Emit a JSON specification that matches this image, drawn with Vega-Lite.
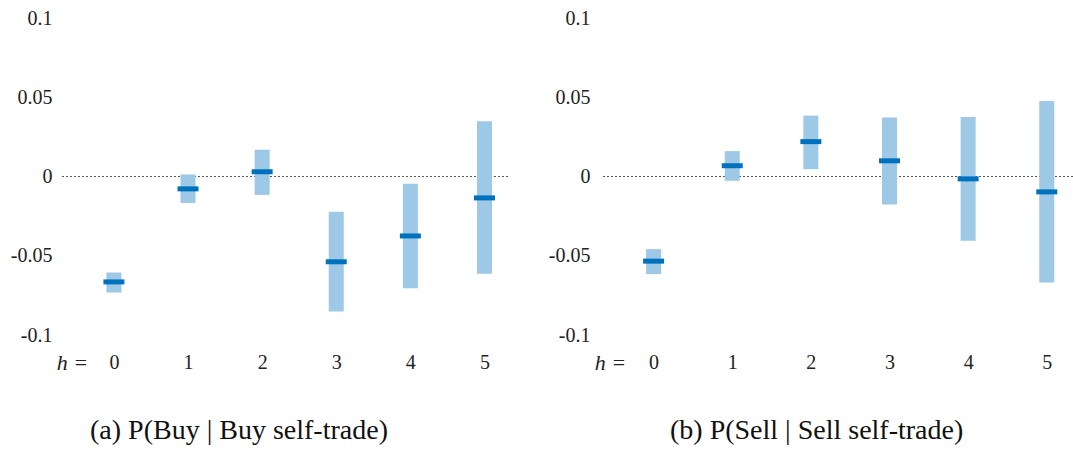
{
  "$schema": "https://vega.github.io/schema/vega-lite/v6.json",
  "background": "white",
  "padding": {"left": 10, "top": 8, "right": 0, "bottom": 0},
  "spacing": 39,
  "datasets": {
    "buy": [
      {"h": 0, "lo": -0.0732, "hi": -0.0606, "est": -0.0665},
      {"h": 1, "lo": -0.0167, "hi": 0.0013, "est": -0.0078},
      {"h": 2, "lo": -0.0116, "hi": 0.0169, "est": 0.003},
      {"h": 3, "lo": -0.0852, "hi": -0.0222, "est": -0.0538},
      {"h": 4, "lo": -0.0705, "hi": -0.0046, "est": -0.0375},
      {"h": 5, "lo": -0.0614, "hi": 0.0348, "est": -0.0135}
    ],
    "sell": [
      {"h": 0, "lo": -0.0616, "hi": -0.0458, "est": -0.0534},
      {"h": 1, "lo": -0.0027, "hi": 0.016, "est": 0.0068},
      {"h": 2, "lo": 0.0046, "hi": 0.0384, "est": 0.022},
      {"h": 3, "lo": -0.0177, "hi": 0.0373, "est": 0.0099},
      {"h": 4, "lo": -0.0405, "hi": 0.0375, "est": -0.0015},
      {"h": 5, "lo": -0.0669, "hi": 0.0477, "est": -0.0097}
    ],
    "zero": [{"v": 0}]
  },
  "config": {
    "font": "Liberation Serif",
    "view": {"stroke": null},
    "axis": {
      "grid": false, "domain": false, "ticks": false,
      "labelFont": "Liberation Serif", "labelFontSize": 20, "labelColor": "#222",
      "titleFont": "Liberation Serif", "titleFontSize": 22, "titleColor": "#222", "titleFontWeight": "normal"
    },
    "title": {"font": "Liberation Serif", "fontSize": 28, "fontWeight": "normal", "color": "#111"}
  },
  "hconcat": [
    {
      "width": 448, "height": 317,
      "title": {"text": "(a) P(Buy | Buy self-trade)", "orient": "bottom", "anchor": "start", "frame": "group", "dx": 30, "offset": 44},
      "layer": [
        {
          "data": {"name": "zero"},
          "mark": {"type": "rule", "strokeDash": [2, 2], "color": "#555", "strokeWidth": 1},
          "encoding": {"y": {"field": "v", "type": "quantitative"}}
        },
        {
          "data": {"name": "buy"},
          "mark": {"type": "bar", "size": 15, "color": "#9dc8e6", "opacity": 1},
          "encoding": {
            "x": {"field": "h", "type": "quantitative", "scale": {"domain": [-0.66, 5.25], "nice": false, "zero": false},
              "axis": {"values": [0, 1, 2, 3, 4, 5], "format": "d", "labelBaseline": "middle", "labelPadding": 27,
                "title": "h  =", "titleX": 12, "titleY": 27, "titleBaseline": "middle", "titleAlign": "center", "titleFontStyle": "italic"}},
            "y": {"field": "lo", "type": "quantitative", "scale": {"domain": [-0.1, 0.1], "nice": false},
              "axis": {"values": [-0.1, -0.05, 0, 0.05, 0.1], "title": null, "labelPadding": 8,
                "labelExpr": "datum.value == 0 ? '0' : (datum.value < 0 ? '-' : '') + format(abs(datum.value), '')"}},
            "y2": {"field": "hi"}
          }
        },
        {
          "data": {"name": "buy"},
          "mark": {"type": "tick", "orient": "horizontal", "size": 21, "thickness": 5, "color": "#0072bd", "opacity": 1},
          "encoding": {
            "x": {"field": "h", "type": "quantitative"},
            "y": {"field": "est", "type": "quantitative"}
          }
        }
      ]
    },
    {
      "width": 470, "height": 317,
      "title": {"text": "(b) P(Sell | Sell self-trade)", "orient": "bottom", "anchor": "start", "frame": "group", "dx": 67, "offset": 44},
      "layer": [
        {
          "data": {"name": "zero"},
          "mark": {"type": "rule", "strokeDash": [2, 2], "color": "#555", "strokeWidth": 1},
          "encoding": {"y": {"field": "v", "type": "quantitative"}}
        },
        {
          "data": {"name": "sell"},
          "mark": {"type": "bar", "size": 15, "color": "#9dc8e6", "opacity": 1},
          "encoding": {
            "x": {"field": "h", "type": "quantitative", "scale": {"domain": [-0.58, 5.27], "nice": false, "zero": false},
              "axis": {"values": [0, 1, 2, 3, 4, 5], "format": "d", "labelBaseline": "middle", "labelPadding": 27,
                "title": "h  =", "titleX": 7, "titleY": 27, "titleBaseline": "middle", "titleAlign": "center", "titleFontStyle": "italic"}},
            "y": {"field": "lo", "type": "quantitative", "scale": {"domain": [-0.1, 0.1], "nice": false},
              "axis": {"values": [-0.1, -0.05, 0, 0.05, 0.1], "title": null, "labelPadding": 13,
                "labelExpr": "datum.value == 0 ? '0' : (datum.value < 0 ? '-' : '') + format(abs(datum.value), '')"}},
            "y2": {"field": "hi"}
          }
        },
        {
          "data": {"name": "sell"},
          "mark": {"type": "tick", "orient": "horizontal", "size": 21, "thickness": 5, "color": "#0072bd", "opacity": 1},
          "encoding": {
            "x": {"field": "h", "type": "quantitative"},
            "y": {"field": "est", "type": "quantitative"}
          }
        }
      ]
    }
  ]
}
